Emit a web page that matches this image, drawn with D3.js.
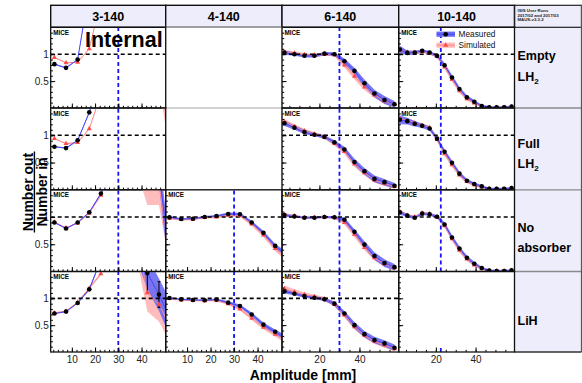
<!DOCTYPE html>
<html>
<head>
<meta charset="utf-8">
<script src="https://cdn.jsdelivr.net/npm/d3@7"></script>
<style>
  body { margin: 0; background: #fff; }
  svg { display: block; }
  text { font-family: "Liberation Sans", Arial, Helvetica, sans-serif; }
</style>
</head>
<body>
<svg id="chart" width="582" height="383"></svg>
<script>
// ---------------- data ----------------
const beamSettings = ["3-140", "4-140", "6-140", "10-140"];
const absorberLabels = [["Empty", "LH", "2"], ["Full", "LH", "2"], ["No", "absorber", ""], ["LiH", "", ""]];
const runInfo = ["ISIS User Runs", "2017/02 and 2017/03", "MAUS-v3.3.2"];
const legendLabels = ["Measured", "Simulated"];

const xTickLabelsNarrow = [10, 20, 30, 40];
const xTickLabelsWide = [20, 40];
const yTickLabels = [0.5, 1];
const cutAmplitude = [30, 30, 30, 22.5];

// amplitude bin centres [mm]
const amp5 = [2.5, 7.5, 12.5, 17.5, 22.5, 27.5, 32.5, 37.5, 42.5, 47.5, 52.5];
const amp5Wide = [2.5, 7.5, 12.5, 17.5, 22.5, 27.5, 32.5, 37.5, 42.5, 47.5, 52.5, 57.5];
const amp375 = [1.875, 5.625, 9.375, 13.125, 16.875, 20.625, 24.375, 28.125, 31.875, 35.625, 39.375, 43.125, 46.875, 50.625, 54.375, 58.125];

// 3-140
const empty3Meas = [0.815, 0.746, 0.90, 2.2, null, null, null, null, null, null, null];
const empty3MeasErr = [0.01, 0.01, 0.01, 0.02, 0, 0, 0, 0, 0, 0, 0];
const empty3Sim = [0.94, 0.84, 0.85, 1.10, 2.0, null, null, null, null, null, null];
const empty3SimErr = [0.01, 0.01, 0.01, 0.01, 0.02, 0, 0, 0, 0, 0, 0];

const full3Meas = [0.79, 0.765, 0.907, 1.42, 2.1, null, null, null, null, null, null];
const full3MeasErr = [0.01, 0.01, 0.01, 0.02, 0.03, 0, 0, 0, 0, 0, 0];
const full3Sim = [0.94, 0.846, 0.865, 1.12, 1.75, null, null, null, null, 2.2, 0.8];
const full3SimErr = [0.01, 0.01, 0.01, 0.01, 0.02, 0, 0, 0, 0, 0.25, 0.25];

const noabs3Meas = [0.90, 0.79, 0.90, 1.087, 1.43, 1.9, null, null, null, 1.9, 0.0];
const noabs3MeasErr = [0.01, 0.01, 0.01, 0.01, 0.02, 0.03, 0, 0, 0, 0.3, 0.3];
const noabs3Sim = [0.91, 0.80, 0.89, 1.07, 1.40, 1.85, null, 2.3, 1.6, 1.6, 0.2];
const noabs3SimErr = [0.01, 0.01, 0.01, 0.01, 0.02, 0.03, 0, 0.4, 0.38, 0.38, 0.2];

const lih3Meas = [0.716, 0.753, 0.913, 1.167, 1.72, 2.3, 2.4, 2.05, 1.47, 1.07, 0.6];
const lih3MeasErr = [0.01, 0.01, 0.01, 0.02, 0.03, 0.1, 0.2, 0.27, 0.3, 0.3, 0.35];
const lih3MeasStat = [0, 0, 0, 0, 0, 0, 0, 0, 0.38, 0.24, 0];
const lih3Sim = [0.73, 0.76, 0.93, 1.19, 1.457, 2.0, 2.3, 2.2, 1.105, 0.89, 0.45];
const lih3SimErr = [0.01, 0.01, 0.01, 0.02, 0.03, 0.1, 0.2, 0.38, 0.35, 0.32, 0.3];

// 4-140
const noabs4Meas = [0.994, 0.963, 0.969, 1.0, 1.019, 1.056, 1.05, 0.90, 0.71, 0.47, 0.30];
const noabs4MeasErr = [0.02, 0.02, 0.02, 0.02, 0.02, 0.025, 0.03, 0.03, 0.035, 0.04, 0.05];
const noabs4Sim = [0.975, 0.955, 0.96, 0.99, 1.0, 1.03, 1.03, 0.87, 0.67, 0.42, 0.25];
const noabs4SimErr = [0.02, 0.02, 0.02, 0.02, 0.02, 0.025, 0.03, 0.035, 0.04, 0.05, 0.06];

const lih4Meas = [1.006, 0.981, 0.969, 0.963, 0.976, 0.92, 0.857, 0.70, 0.51, 0.376, 0.25];
const lih4MeasErr = [0.015, 0.015, 0.015, 0.015, 0.02, 0.025, 0.03, 0.035, 0.04, 0.045, 0.05];
const lih4Sim = [0.995, 0.97, 0.96, 0.955, 0.965, 0.90, 0.80, 0.63, 0.46, 0.33, 0.20];
const lih4SimErr = [0.015, 0.015, 0.015, 0.015, 0.02, 0.025, 0.03, 0.035, 0.04, 0.045, 0.05];

// 6-140
const empty6Meas = [1.03, 1.0, 0.97, 0.97, 1.01, 1.0, 0.87, 0.69, 0.46, 0.27, 0.15, 0.07];
const empty6MeasErr = [0.04, 0.03, 0.03, 0.03, 0.03, 0.035, 0.05, 0.06, 0.07, 0.07, 0.075, 0.06];
const empty6Sim = [1.04, 1.02, 0.99, 0.98, 1.0, 0.99, 0.80, 0.59, 0.39, 0.24, 0.13, 0.07];
const empty6SimErr = [0.04, 0.03, 0.03, 0.03, 0.03, 0.03, 0.05, 0.06, 0.06, 0.05, 0.05, 0.04];

const full6Meas = [1.22, 1.14, 1.06, 1.01, 0.97, 0.87, 0.74, 0.51, 0.34, 0.20, 0.14, 0.075];
const full6MeasErr = [0.05, 0.04, 0.04, 0.03, 0.03, 0.04, 0.05, 0.06, 0.06, 0.06, 0.06, 0.05];
const full6Sim = [1.25, 1.16, 1.08, 1.02, 0.97, 0.85, 0.70, 0.47, 0.31, 0.18, 0.12, 0.06];
const full6SimErr = [0.05, 0.04, 0.04, 0.04, 0.04, 0.04, 0.05, 0.05, 0.05, 0.05, 0.05, 0.04];

const noabs6Meas = [1.037, 1.012, 0.988, 0.988, 1.0, 0.994, 0.951, 0.728, 0.494, 0.284, 0.154, 0.080];
const noabs6MeasErr = [0.03, 0.02, 0.02, 0.02, 0.02, 0.025, 0.04, 0.05, 0.06, 0.07, 0.07, 0.06];
const noabs6Sim = [1.045, 1.02, 0.99, 0.99, 1.0, 0.99, 0.90, 0.68, 0.44, 0.25, 0.14, 0.07];
const noabs6SimErr = [0.03, 0.02, 0.02, 0.02, 0.02, 0.02, 0.04, 0.05, 0.05, 0.05, 0.05, 0.04];

const lih6Meas = [1.13, 1.086, 1.043, 1.012, 0.981, 0.901, 0.716, 0.50, 0.333, 0.222, 0.16, 0.08];
const lih6MeasErr = [0.04, 0.03, 0.03, 0.03, 0.03, 0.04, 0.05, 0.06, 0.06, 0.06, 0.06, 0.06];
const lih6Sim = [1.18, 1.12, 1.07, 1.03, 0.99, 0.89, 0.69, 0.47, 0.31, 0.20, 0.13, 0.06];
const lih6SimErr = [0.06, 0.05, 0.04, 0.04, 0.04, 0.04, 0.05, 0.05, 0.05, 0.05, 0.05, 0.04];

// 10-140
const empty10Meas = [1.086, 1.025, 1.031, 1.062, 1.031, 0.969, 0.796, 0.568, 0.352, 0.198, 0.117, 0.037, 0.012, 0.012, 0.012, 0.025];
const empty10MeasErr = [0.07, 0.045, 0.035, 0.03, 0.03, 0.03, 0.04, 0.045, 0.045, 0.04, 0.03, 0.025, 0.02, 0.02, 0.02, 0.02];
const empty10Sim = [1.07, 1.04, 1.03, 1.05, 1.02, 0.96, 0.76, 0.53, 0.32, 0.17, 0.09, 0.03, 0.01, 0.01, 0.01, 0.02];
const empty10SimErr = [0.04, 0.03, 0.03, 0.03, 0.03, 0.03, 0.035, 0.04, 0.04, 0.035, 0.03, 0.02, 0.015, 0.015, 0.015, 0.02];

const full10Meas = [1.284, 1.259, 1.21, 1.173, 1.124, 0.938, 0.698, 0.494, 0.296, 0.167, 0.105, 0.062, 0.019, 0.019, 0.019, 0.031];
const full10MeasErr = [0.08, 0.06, 0.05, 0.04, 0.04, 0.04, 0.045, 0.045, 0.04, 0.035, 0.03, 0.025, 0.02, 0.02, 0.02, 0.02];
const full10Sim = [1.30, 1.27, 1.22, 1.18, 1.14, 0.92, 0.66, 0.46, 0.27, 0.15, 0.09, 0.05, 0.02, 0.01, 0.01, 0.03];
const full10SimErr = [0.05, 0.04, 0.04, 0.035, 0.035, 0.035, 0.04, 0.04, 0.035, 0.03, 0.03, 0.02, 0.015, 0.015, 0.015, 0.02];

const noabs10Meas = [1.086, 1.025, 0.988, 1.062, 1.049, 1.006, 0.864, 0.623, 0.42, 0.253, 0.142, 0.062, 0.019, 0.01, 0.01, 0.02];
const noabs10MeasErr = [0.04, 0.03, 0.025, 0.025, 0.025, 0.03, 0.04, 0.045, 0.045, 0.04, 0.035, 0.025, 0.02, 0.02, 0.02, 0.02];
const noabs10Sim = [1.10, 1.03, 1.00, 1.07, 1.06, 1.00, 0.84, 0.60, 0.39, 0.23, 0.12, 0.05, 0.015, 0.01, 0.01, 0.02];
const noabs10SimErr = [0.035, 0.03, 0.025, 0.025, 0.025, 0.03, 0.035, 0.04, 0.04, 0.035, 0.03, 0.02, 0.015, 0.015, 0.015, 0.02];

// panel table: row = absorber, col = beam setting
const panels = [
  { row: 0, col: 0, amp: amp5, meas: empty3Meas, measErr: empty3MeasErr, sim: empty3Sim, simErr: empty3SimErr },
  { row: 1, col: 0, amp: amp5, meas: full3Meas, measErr: full3MeasErr, sim: full3Sim, simErr: full3SimErr },
  { row: 2, col: 0, amp: amp5, meas: noabs3Meas, measErr: noabs3MeasErr, sim: noabs3Sim, simErr: noabs3SimErr },
  { row: 3, col: 0, amp: amp5, meas: lih3Meas, measErr: lih3MeasErr, measStat: lih3MeasStat, sim: lih3Sim, simErr: lih3SimErr },
  { row: 0, col: 1, blank: true },
  { row: 1, col: 1, blank: true },
  { row: 2, col: 1, amp: amp5, meas: noabs4Meas, measErr: noabs4MeasErr, sim: noabs4Sim, simErr: noabs4SimErr },
  { row: 3, col: 1, amp: amp5, meas: lih4Meas, measErr: lih4MeasErr, sim: lih4Sim, simErr: lih4SimErr },
  { row: 0, col: 2, amp: amp5Wide, meas: empty6Meas, measErr: empty6MeasErr, sim: empty6Sim, simErr: empty6SimErr },
  { row: 1, col: 2, amp: amp5Wide, meas: full6Meas, measErr: full6MeasErr, sim: full6Sim, simErr: full6SimErr },
  { row: 2, col: 2, amp: amp5Wide, meas: noabs6Meas, measErr: noabs6MeasErr, sim: noabs6Sim, simErr: noabs6SimErr },
  { row: 3, col: 2, amp: amp5Wide, meas: lih6Meas, measErr: lih6MeasErr, sim: lih6Sim, simErr: lih6SimErr },
  { row: 0, col: 3, amp: amp375, meas: empty10Meas, measErr: empty10MeasErr, sim: empty10Sim, simErr: empty10SimErr, legend: true },
  { row: 1, col: 3, amp: amp375, meas: full10Meas, measErr: full10MeasErr, sim: full10Sim, simErr: full10SimErr },
  { row: 2, col: 3, amp: amp375, meas: noabs10Meas, measErr: noabs10MeasErr, sim: noabs10Sim, simErr: noabs10SimErr },
  { row: 3, col: 3, noData: true, cutTop: 0.1 }
];

// ---------------- layout ----------------
const colEdges = [50.7, 165.7, 282, 398.7, 514.5];
const rowEdges = [27.3, 108, 189.8, 271.5, 352];
const headerTop = 5.3;
const labelRight = 581.5;
const colDomains = [[0.9, 50.4], [0.9, 50.4], [1.3, 59.6], [1.3, 59.6]];
const rowLabelBaselines = [[32.7, 53.4], [40, 60], [41.9, 61.9], [53.5]];

const C = {
  measBand: "#6a6af3",
  simBand: "#ffbcbc",
  measLine: "#4848ff",
  simLine: "#ff8a8a",
  simMark: "#ff4a4a",
  cut: "#1414ff",
  panelBg: "#ededfb"
};

const svg = d3.select("#chart");
const defs = svg.append("defs");

// lavender label column and column headers
svg.append("rect")
  .attr("x", colEdges[4]).attr("y", headerTop)
  .attr("width", labelRight - colEdges[4]).attr("height", rowEdges[4] - headerTop)
  .attr("fill", C.panelBg);

beamSettings.forEach((name, c) => {
  svg.append("rect")
    .attr("x", colEdges[c]).attr("y", headerTop)
    .attr("width", colEdges[c + 1] - colEdges[c]).attr("height", rowEdges[0] - headerTop)
    .attr("fill", C.panelBg).attr("stroke", "#111").attr("stroke-width", 1.4);
  svg.append("text")
    .attr("x", (colEdges[c] + colEdges[c + 1]) / 2).attr("y", 20.5)
    .attr("text-anchor", "middle").attr("font-size", 12.5).attr("font-weight", "bold")
    .text(name);
});

// label column borders
svg.append("rect")
  .attr("x", colEdges[4]).attr("y", headerTop)
  .attr("width", labelRight - colEdges[4]).attr("height", rowEdges[0] - headerTop)
  .attr("fill", "none").attr("stroke", "#222").attr("stroke-width", 1.2);
[1, 2, 3].forEach(r => {
  svg.append("line")
    .attr("x1", colEdges[4]).attr("x2", labelRight)
    .attr("y1", rowEdges[r]).attr("y2", rowEdges[r])
    .attr("stroke", "#8a8a8a").attr("stroke-width", 1.3);
});
svg.append("line").attr("x1", labelRight).attr("x2", labelRight)
  .attr("y1", headerTop).attr("y2", rowEdges[4]).attr("stroke", "#555").attr("stroke-width", 1.2);
svg.append("line").attr("x1", colEdges[4]).attr("x2", labelRight)
  .attr("y1", rowEdges[4]).attr("y2", rowEdges[4]).attr("stroke", "#333").attr("stroke-width", 1.3);

runInfo.forEach((t, i) => {
  svg.append("text")
    .attr("x", 517.5).attr("y", 12.3 + i * 4.5)
    .attr("font-size", 4.3).attr("font-weight", "bold").attr("fill", "#222")
    .text(t);
});

absorberLabels.forEach((lines, r) => {
  const base = rowLabelBaselines[r];
  const t1 = svg.append("text")
    .attr("x", 517.5).attr("y", rowEdges[r] + base[0])
    .attr("font-size", 12.5).attr("font-weight", "bold");
  t1.text(lines[0]);
  if (lines[1]) {
    const t2 = svg.append("text")
      .attr("x", 517.5).attr("y", rowEdges[r] + base[1])
      .attr("font-size", 12.5).attr("font-weight", "bold");
    t2.append("tspan").text(lines[1]);
    if (lines[2]) t2.append("tspan").attr("font-size", 8).attr("dy", 3).text(lines[2]);
  }
});

// ---------------- panels ----------------
const bandArea = (x, y) => d3.area()
  .defined(d => d.v != null)
  .x(d => x(d.a)).y0(d => y(d.v - d.e)).y1(d => y(d.v + d.e));
const seriesLine = (x, y) => d3.line()
  .defined(d => d.v != null)
  .x(d => x(d.a)).y(d => y(d.v));

function drawPanel(p, i) {
  const x0 = colEdges[p.col], x1 = colEdges[p.col + 1];
  const yTop = rowEdges[p.row], yBot = rowEdges[p.row + 1];
  const x = d3.scaleLinear().domain(colDomains[p.col]).range([x0, x1]);
  const y = d3.scaleLinear().domain([0, 1.5]).range([yBot, yTop]);
  const g = svg.append("g");

  if (p.blank) {
    g.append("rect").attr("x", x0).attr("y", yTop).attr("width", x1 - x0).attr("height", yBot - yTop)
      .attr("fill", "none").attr("stroke", "#c4c4c4").attr("stroke-width", 1);
    return;
  }

  const clipId = "clip" + i;
  defs.append("clipPath").attr("id", clipId)
    .append("rect").attr("x", x0).attr("y", yTop).attr("width", x1 - x0).attr("height", yBot - yTop);
  const plot = g.append("g").attr("clip-path", `url(#${clipId})`);

  let measPts = [], simPts = [];
  if (!p.noData) {
    measPts = p.amp.map((a, k) => ({ a, v: p.meas[k], e: p.measErr[k] || 0, s: p.measStat ? p.measStat[k] : 0 }));
    simPts = p.amp.map((a, k) => ({ a, v: p.sim[k], e: p.simErr[k] || 0 }));

    plot.append("path").datum(simPts).attr("d", bandArea(x, y)).attr("fill", C.simBand);
    plot.append("path").datum(measPts).attr("d", bandArea(x, y)).attr("fill", C.measBand).attr("fill-opacity", 0.9);
    plot.append("path").datum(simPts).attr("d", seriesLine(x, y))
      .attr("fill", "none").attr("stroke", C.simLine).attr("stroke-width", 1);
    plot.append("path").datum(measPts).attr("d", seriesLine(x, y))
      .attr("fill", "none").attr("stroke", C.measLine).attr("stroke-width", 1);

    // unity reference
    plot.append("line").attr("x1", x0).attr("x2", x1).attr("y1", y(1)).attr("y2", y(1))
      .attr("stroke", "#000").attr("stroke-width", 1.6).attr("stroke-dasharray", "4,3");
  }

  // amplitude cut
  const cutTop = p.cutTop != null ? p.cutTop : 1.5;
  plot.append("line")
    .attr("x1", x(cutAmplitude[p.col])).attr("x2", x(cutAmplitude[p.col]))
    .attr("y1", y(0)).attr("y2", y(cutTop))
    .attr("stroke", C.cut).attr("stroke-width", 1.8).attr("stroke-dasharray", "4,3");

  if (!p.noData) {
    // statistical error bars
    const bars = measPts.filter(d => d.v != null && d.s > 0.02);
    plot.selectAll(".ebar").data(bars).enter().append("line")
      .attr("x1", d => x(d.a)).attr("x2", d => x(d.a))
      .attr("y1", d => y(d.v - d.s)).attr("y2", d => y(d.v + d.s))
      .attr("stroke", "#000").attr("stroke-width", 1);
    plot.selectAll(".ecap").data(bars.flatMap(d => [d.v - d.s, d.v + d.s].map(v => ({ a: d.a, v })))).enter()
      .append("line")
      .attr("x1", d => x(d.a) - 1.5).attr("x2", d => x(d.a) + 1.5)
      .attr("y1", d => y(d.v)).attr("y2", d => y(d.v))
      .attr("stroke", "#000").attr("stroke-width", 1);

    const tri = d3.symbol().type(d3.symbolTriangle).size(11);
    plot.selectAll(".sim").data(simPts.filter(d => d.v != null)).enter().append("path")
      .attr("d", tri).attr("transform", d => `translate(${x(d.a)},${y(d.v)})`)
      .attr("fill", C.simMark);
    plot.selectAll(".meas").data(measPts.filter(d => d.v != null)).enter().append("circle")
      .attr("cx", d => x(d.a)).attr("cy", d => y(d.v)).attr("r", 2.3).attr("fill", "#000");

    g.append("text").attr("x", x0 + 2.5).attr("y", yTop + 7.5)
      .attr("font-size", 6.3).attr("font-weight", "bold").text("MICE");
  }

  // axes: ticks drawn inside the frame
  const narrow = p.col < 2;
  const xMajor = narrow ? xTickLabelsNarrow : xTickLabelsWide;
  const xMinor = narrow ? d3.range(2, 50, 2) : d3.range(5, 60, 5);
  const noLabels = "";
  const strip = sel => sel.select(".domain").remove();
  g.append("g").attr("transform", `translate(0,${yBot})`)
    .call(d3.axisTop(x).tickValues(xMinor).tickSize(2.2).tickFormat(() => noLabels)).call(strip);
  g.append("g").attr("transform", `translate(0,${yBot})`)
    .call(d3.axisTop(x).tickValues(xMajor).tickSize(4.5).tickFormat(() => noLabels)).call(strip);
  g.append("g").attr("transform", `translate(${x0},0)`)
    .call(d3.axisRight(y).tickValues(d3.range(0.1, 1.45, 0.1)).tickSize(2.2).tickFormat(() => noLabels)).call(strip);
  g.append("g").attr("transform", `translate(${x0},0)`)
    .call(d3.axisRight(y).tickValues(yTickLabels).tickSize(4.5).tickFormat(() => noLabels)).call(strip);

  if (p.col === 0) {
    g.append("g").attr("transform", `translate(${x0},0)`)
      .call(d3.axisLeft(y).tickValues(yTickLabels).tickSize(0).tickPadding(2).tickFormat(d3.format("")))
      .call(strip)
      .call(s => s.selectAll("text").attr("font-size", 10).attr("fill", "#222")
        .attr("font-family", "'Liberation Sans', Arial, sans-serif"));
  }
  if (p.row === 3) {
    g.append("g").attr("transform", `translate(0,${yBot})`)
      .call(d3.axisBottom(x).tickValues(xMajor).tickSize(0).tickPadding(3.4).tickFormat(d3.format("")))
      .call(strip)
      .call(s => s.selectAll("text").attr("font-size", 10).attr("fill", "#222")
        .attr("font-family", "'Liberation Sans', Arial, sans-serif"));
  }

  g.append("rect").attr("x", x0).attr("y", yTop).attr("width", x1 - x0).attr("height", yBot - yTop)
    .attr("fill", "none").attr("stroke", "#111").attr("stroke-width", 1.3);

  if (p.legend) {
    const lg = svg.append("g");
    const entries = [
      { label: legendLabels[0], band: C.measBand, line: C.measLine, cy: 34.2 },
      { label: legendLabels[1], band: C.simBand, line: C.simLine, cy: 45.2 }
    ];
    entries.forEach((en, k) => {
      lg.append("rect").attr("x", 436.5).attr("y", en.cy - 2.6).attr("width", 18.5).attr("height", 5.2)
        .attr("fill", en.band);
      lg.append("line").attr("x1", 436.5).attr("x2", 455).attr("y1", en.cy).attr("y2", en.cy)
        .attr("stroke", en.line).attr("stroke-width", 1);
      if (k === 0) {
        lg.append("circle").attr("cx", 445.7).attr("cy", en.cy).attr("r", 2.3).attr("fill", "#000");
      } else {
        lg.append("path").attr("d", d3.symbol().type(d3.symbolTriangle).size(11))
          .attr("transform", `translate(445.7,${en.cy})`).attr("fill", C.simMark);
      }
      lg.append("text").attr("x", 458.5).attr("y", en.cy + 3).attr("font-size", 8.3).attr("fill", "#111")
        .text(en.label);
    });
  }
}

// blank panels first so neighbouring frames sit on top
panels.filter(p => p.blank).forEach((p, i) => drawPanel(p, "b" + i));
panels.filter(p => !p.blank).forEach((p, i) => drawPanel(p, i));

// preliminary tag
svg.append("text").attr("x", 85).attr("y", 46.5)
  .attr("font-size", 21.5).attr("font-weight", "bold").text("Internal");

// axis titles
svg.append("text").attr("transform", "translate(32.6,192) rotate(-90)")
  .attr("text-anchor", "middle").attr("font-size", 14).attr("font-weight", "bold").text("Number out");
svg.append("line").attr("x1", 34.4).attr("x2", 34.4).attr("y1", 151.5).attr("y2", 232.5)
  .attr("stroke", "#000").attr("stroke-width", 1.4);
svg.append("text").attr("transform", "translate(46.8,192) rotate(-90)")
  .attr("text-anchor", "middle").attr("font-size", 14).attr("font-weight", "bold").text("Number in");

svg.append("text").attr("x", 303).attr("y", 380)
  .attr("text-anchor", "middle").attr("font-size", 14).attr("font-weight", "bold").text("Amplitude [mm]");
</script>
</body>
</html>
